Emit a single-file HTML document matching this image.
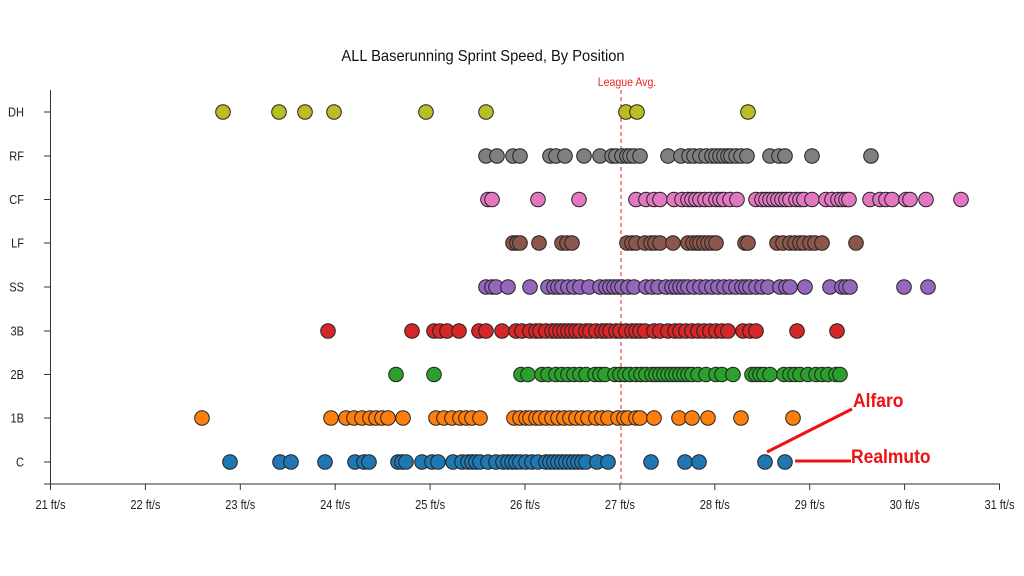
<!DOCTYPE html>
<html><head><meta charset="utf-8"><style>
html,body{margin:0;padding:0;background:#fff;width:1024px;height:576px;overflow:hidden}
svg{display:block}
text{font-family:"Liberation Sans",sans-serif}
</style></head><body>
<svg id="s" width="1024" height="576" xmlns="http://www.w3.org/2000/svg">
<text x="483" y="61" font-size="16" text-anchor="middle" fill="#111" transform="translate(483 0) scale(0.92 1) translate(-483 0)">ALL Baserunning Sprint Speed, By Position</text>
<line x1="50.5" y1="90" x2="50.5" y2="484" stroke="#333" stroke-width="1"/>
<line x1="44" y1="484" x2="1000" y2="484" stroke="#333" stroke-width="1"/>
<g id="ticks"></g>
<line x1="621" y1="90" x2="621" y2="484" stroke="#ee2222" stroke-width="1" stroke-dasharray="4,3"/>
<text x="627" y="86" font-size="12" text-anchor="middle" fill="#ee2222" transform="translate(627 0) scale(0.88 1) translate(-627 0)">League Avg.</text>
<g id="pts"></g>
<line x1="767" y1="452" x2="852" y2="409" stroke="#ee1111" stroke-width="3"/>
<line x1="795" y1="461" x2="851" y2="461" stroke="#ee1111" stroke-width="3"/>
<text x="853" y="407" font-size="19" font-weight="bold" fill="#ee1111" transform="translate(853 0) scale(0.92 1) translate(-853 0)">Alfaro</text>
<text x="851" y="463" font-size="19" font-weight="bold" fill="#ee1111" transform="translate(851 0) scale(0.92 1) translate(-851 0)">Realmuto</text>
</svg>
<script>
var NS="http://www.w3.org/2000/svg",s=document.getElementById('s'),tg=document.getElementById('ticks'),pg=document.getElementById('pts');
function el(n,a,p,t){var e=document.createElementNS(NS,n);for(var k in a)e.setAttribute(k,a[k]);if(t)e.textContent=t;(p||tg).appendChild(e);return e;}
for(var i=0;i<=10;i++){var x=50.5+i*94.9;el('line',{x1:x,y1:484,x2:x,y2:490,stroke:'#333'});
el('text',{x:x,y:509,'font-size':13,'text-anchor':'middle',fill:'#222',transform:'translate('+x+' 0) scale(0.85 1) translate('+(-x)+' 0)'},tg,(21+i)+' ft/s');}
var rows=[
['DH',112,'#bcbd22',[223,279,305,334,426,486,626,637,748]],
['RF',156,'#7f7f7f',[486,497,513,520,550,556,565,584,600,612,616,622,627,630,634,640,668,681,689,694,700,706,712,716,720,724,728,731,736,741,747,770,779,785,812,871]],
['CF',199.5,'#e377c2',[488,492,538,579,636,646,654,660,674,682,688,692,696,700,705,710,716,720,724,730,737,756,762,766,770,774,778,782,786,790,796,800,804,812,826,832,838,842,846,849,870,880,886,892,906,910,926,961]],
['LF',243,'#8c564b',[513,517,520,539,562,567,572,627,632,636,645,651,655,660,673,688,693,697,700,704,708,712,716,745,748,777,783,790,795,800,804,810,815,822,856]],
['SS',287,'#9467bd',[486,492,496,508,530,548,554,558,562,568,574,580,589,600,606,610,614,618,622,628,634,646,652,658,666,672,676,680,684,688,694,700,706,712,718,724,730,736,742,746,750,756,762,768,780,786,790,805,830,842,846,850,904,928]],
['3B',331,'#d62728',[328,412,434,440,447,459,479,486,502,516,522,530,536,540,546,552,556,560,564,568,572,576,580,586,590,596,602,606,610,616,620,626,632,636,640,645,654,660,668,675,680,686,692,698,704,710,716,722,728,743,750,756,797,837]],
['2B',374.5,'#2ca02c',[396,434,521,528,542,548,556,562,568,574,580,586,595,600,605,615,620,625,630,636,641,646,652,656,660,664,668,672,676,680,684,688,692,698,706,716,722,733,752,756,760,764,770,784,790,795,800,808,816,822,828,836,840]],
['1B',418,'#ff7f0e',[202,331,346,354,362,370,376,382,388,403,436,444,452,460,466,472,480,514,520,526,530,536,540,546,552,558,564,570,576,582,588,596,602,608,618,624,628,636,640,654,679,692,708,741,793]],
['C',462,'#1f77b4',[230,280,291,325,355,364,369,398,402,406,422,432,438,453,462,468,472,476,480,488,496,503,508,512,516,520,526,532,538,546,550,554,558,562,566,570,574,578,582,586,597,608,651,685,699,765,785]]];
rows.forEach(function(r){
 el('line',{x1:44,y1:r[1],x2:50,y2:r[1],stroke:'#333'});
 el('text',{x:24,y:r[1]+4.5,'font-size':13,'text-anchor':'end',fill:'#222',transform:'translate(24 0) scale(0.85 1) translate(-24 0)'},tg,r[0]);
 r[3].forEach(function(x){el('circle',{cx:x,cy:r[1],r:7.3,fill:r[2],stroke:'#222','stroke-width':1},pg);});
});
</script>
</body></html>
